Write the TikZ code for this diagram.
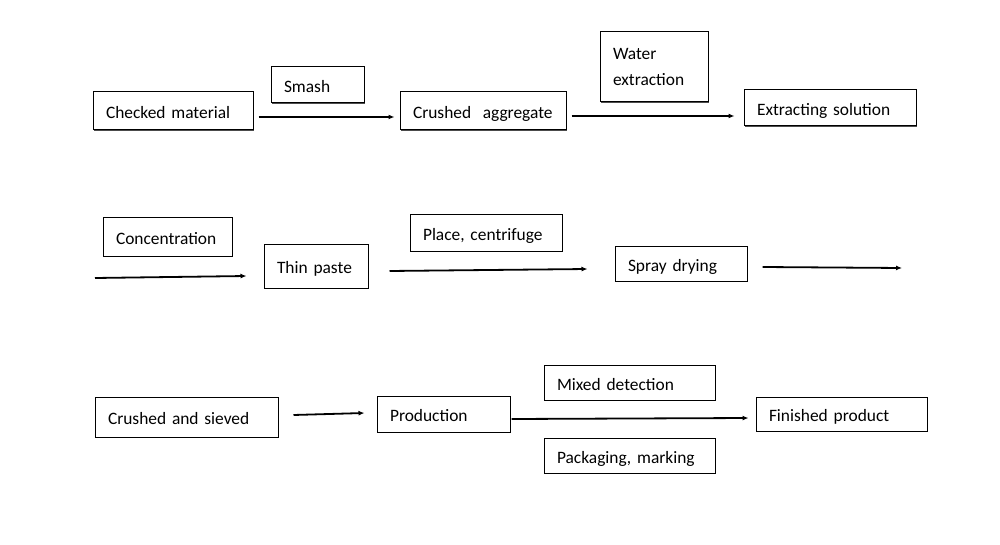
\documentclass[tikz,border=0pt]{standalone}
\usepackage{fontspec}
\setmainfont{Carlito}
\usetikzlibrary{calc,arrows.meta,shadows}
\begin{document}
\begin{tikzpicture}[x=1pt,y=-1pt,
  box/.style={draw=black, line width=1pt, fill=white, rectangle, inner xsep=13pt, inner ysep=0pt,
    align=left, font=\fontsize{17.4}{26}\selectfont, text height=17pt, text depth=1.8pt,
    drop shadow={shadow xshift=1.2pt, shadow yshift=-1.2pt, fill=black!70, opacity=1}},
  arr/.style={line width=1.8pt, -{Latex[length=6pt,width=5pt]}}]
\useasboundingbox[fill=white] (0,0) rectangle (1000,545);
% row 1
\node[box, text width=134pt, minimum height=38pt] (cm) at (173,111) {Checked material};
\node[box, text width=67pt, minimum height=36pt] (smash) at (317.5,85) {Smash};
\node[box, text width=140pt, minimum height=38pt] (ca) at (483,111) {Crushed\ \ aggregate};
\node[box, text width=82pt, minimum height=70pt, text height={}, text depth={}] (water) at (654,67) {Water\\extraction};
\node[box, text width=146pt, minimum height=36pt] (es) at (830,108) {Extracting solution};
% row 2
\node[box, text width=103pt, minimum height=38pt] (conc) at (167.5,237) {Concentration};
\node[box, text width=78pt, minimum height=44pt] (thin) at (316,266) {Thin paste};
\node[box, text width=126pt, minimum height=36pt] (place) at (486,233) {Place, centrifuge};
\node[box, text width=106pt, minimum height=35pt] (spray) at (681,263.5) {Spray drying};
% row 3
\node[box, text width=157pt, minimum height=40pt] (cs) at (186.5,417) {Crushed and sieved};
\node[box, text width=107pt, minimum height=36pt] (prod) at (443.5,414) {Production};
\node[box, text width=145pt, minimum height=35pt] (mixed) at (629.5,382.5) {Mixed detection};
\node[box, text width=145pt, minimum height=34pt] (fp) at (841.5,414) {Finished product};
\node[box, text width=145pt, minimum height=35pt] (pack) at (629.5,455.5) {Packaging, marking};
% free ends
\coordinate (s3) at (95,278);
\coordinate (e5) at (902,268);
% arrows
\draw[arr] ($(cm.east)+(5,6)$) -- ($(ca.west)+(-5,6)$);
\draw[arr] ($(ca.east)+(5,5)$) -- ($(es.west)+(-9,8)$);
\draw[arr] (s3) -- ($(thin.west)+(-17,10)$);
\draw[arr] ($(thin.east)+(21,5)$) -- ($(spray.west)+(-27,5.5)$);
\draw[arr] ($(spray.east)+(15,3.5)$) -- (e5);
\draw[arr] ($(cs.east)+(15,-2)$) -- ($(prod.west)+(-12,-1)$);
\draw[arr] ($(prod.east)+(1,5)$) -- ($(fp.west)+(-7,4)$);
\end{tikzpicture}
\end{document}
